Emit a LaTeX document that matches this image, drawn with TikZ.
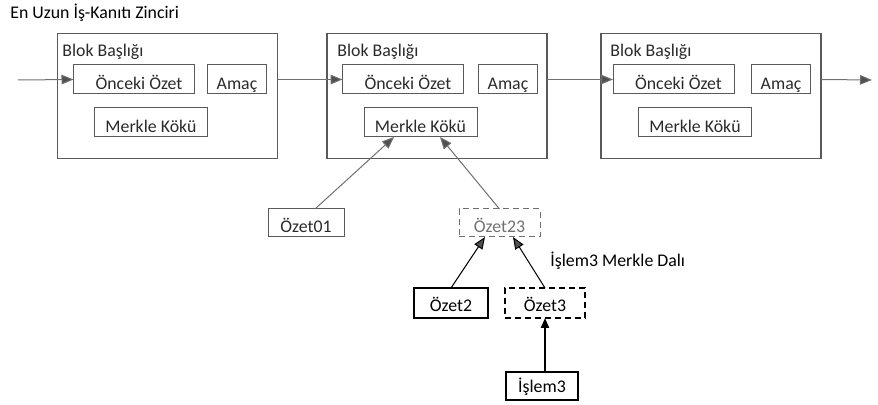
\documentclass[tikz,border=0pt]{standalone}
\usepackage{fontspec}
\setmainfont{Carlito}
\usetikzlibrary{arrows.meta,calc}
\definecolor{lgray}{HTML}{5A5A5A}
\definecolor{tgray}{HTML}{2A2A2A}
\definecolor{dgray}{HTML}{707070}
\definecolor{agray}{HTML}{505050}
\tikzset{
  fnt/.style={font=\fontsize{8.9}{10}\selectfont},
  blk/.style={draw=lgray,line width=0.6pt,inner sep=0pt,outer sep=0pt,minimum width=110pt,minimum height=62.5pt},
  ibox/.style={fnt,draw=lgray,line width=0.5pt,inner sep=0pt,outer sep=0pt,minimum height=14.5pt,text=tgray,text height=10pt,text depth=0pt},
  txt/.style={fnt,inner sep=0pt,text=tgray},
  garr/.style={draw=dgray,line width=0.5pt,-{Triangle[length=6pt,width=4.8pt,fill=agray]}},
  karr/.style={draw=black,line width=0.5pt,-{Triangle[length=6pt,width=4.8pt,fill=agray]}},
  barr/.style={draw=black,line width=1pt,-{Triangle[length=5pt,width=4pt]}},
  bbox/.style={fnt,draw=black,line width=0.8pt,inner sep=0pt,outer sep=0pt,minimum height=15pt,text=black,text height=9pt,text depth=0pt},
}
\begin{document}
\begin{tikzpicture}[x=0.5pt,y=-0.5pt]
\useasboundingbox (0,0) rectangle (878,405);
\node[txt,anchor=base west,text=black] (title) at (10,18.5) {En Uzun İş-Kanıtı Zinciri};
% blocks
\node[blk] (b1) at (167.5,96) {};
\node[blk] (b2) at (437,96) {};
\node[blk] (b3) at (711,96) {};
\node[txt,anchor=base west] (h1) at (62,57) {Blok Başlığı};
\node[txt,anchor=base west] (h2) at (337,57) {Blok Başlığı};
\node[txt,anchor=base west] (h3) at (610,57) {Blok Başlığı};
\node[ibox,minimum width=60.5pt] (p1) at (134,79.5) {};
\node[ibox,minimum width=60.5pt] (p2) at (403,79.5) {};
\node[ibox,minimum width=60.5pt] (p3) at (673.5,79.5) {};
\node[txt,anchor=base] (pt1) at (139,90) {Önceki Özet};
\node[txt,anchor=base] (pt2) at (408,90) {Önceki Özet};
\node[txt,anchor=base] (pt3) at (678.5,90) {Önceki Özet};
\node[ibox,minimum width=29.5pt] (a1) at (237,79.5) {Amaç};
\node[ibox,minimum width=29.5pt] (a2) at (508,79.5) {Amaç};
\node[ibox,minimum width=29.5pt] (a3) at (781,79.5) {Amaç};
\node[ibox,minimum width=56.5pt] (m1) at (151,122.5) {Merkle Kökü};
\node[ibox,minimum width=56.5pt] (m2) at (420.5,122.5) {Merkle Kökü};
\node[ibox,minimum width=56.5pt] (m3) at (695,122.5) {Merkle Kökü};
% chain arrows
\coordinate (in) at (18,80);
\coordinate (out) at (872,80);
\draw[garr] (in) -- (p1.west);
\draw[garr] (b1.east|-p1.west) -- (p2.west);
\draw[garr] (b2.east|-p2.west) -- (p3.west);
\draw[garr] (b3.east|-p3.west) -- (out);
% tree
\node[ibox,minimum width=38pt,minimum height=14pt] (o01) at (306,223) {Özet01};
\node[ibox,dashed,dash pattern=on 3pt off 2pt,minimum width=40.5pt,minimum height=14pt,text=dgray,draw=dgray] (o23) at (499.5,223) {Özet23};
\node[bbox,minimum width=37pt] (o2) at (451,303) {Özet2};
\node[bbox,dashed,dash pattern=on 3pt off 2pt,minimum width=40pt] (o3) at (545,303) {Özet3};
\node[bbox,minimum width=36pt,minimum height=14pt,text height=7pt] (i3) at (542,386) {İşlem3};
\node[txt,anchor=base west,text=black] (lbl) at (550,267) {İşlem3 Merkle Dalı};
\draw[garr] ($(o01.north)+(9,0)$) -- ($(m2.south)+(-26.5,0)$);
\draw[garr] (o23.north) -- ($(m2.south)+(19.5,0)$);
\draw[karr] (o2.north) -- ($(o23.south)+(-14.5,0)$);
\draw[karr] (o3.north) -- ($(o23.south)+(13.5,0)$);
\coordinate (i3t) at ($(i3.north)+(3,0)$);
\draw[barr] (i3t) -- (o3.south-|i3t);
\end{tikzpicture}
\end{document}
